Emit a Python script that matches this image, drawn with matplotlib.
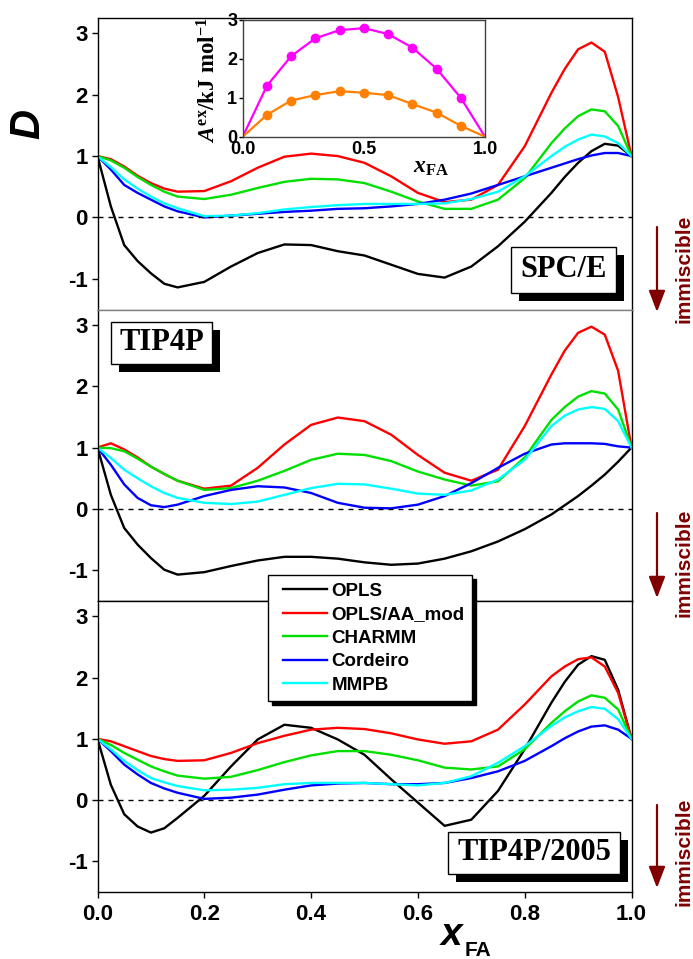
import matplotlib
matplotlib.use('Agg')
import matplotlib.pyplot as plt
from matplotlib.patches import Rectangle, FancyArrowPatch
from matplotlib.lines import Line2D
from matplotlib.legend_handler import HandlerLine2D

plt.rcParams['font.family'] = ['Liberation Sans', 'DejaVu Sans']
plt.rcParams['font.weight'] = 'bold'
plt.rcParams['axes.unicode_minus'] = False
plt.rcParams['mathtext.fontset'] = 'custom'
plt.rcParams['mathtext.rm'] = 'Liberation Serif:bold'
plt.rcParams['mathtext.it'] = 'Liberation Serif:italic:bold'
plt.rcParams['mathtext.bf'] = 'Liberation Sans:bold'

# ---- data ----
x = [0, 0.025, 0.05, 0.075, 0.1, 0.125, 0.15, 0.2, 0.25, 0.3, 0.35, 0.4, 0.45, 0.5,
     0.55, 0.6, 0.65, 0.7, 0.75, 0.8, 0.85, 0.875, 0.9, 0.925, 0.95, 0.975, 1.0]

models = ['OPLS', 'OPLS/AA_mod', 'CHARMM', 'Cordeiro', 'MMPB']
colors = ['#000000', '#ff0000', '#00e000', '#0000ff', '#00ffff']

spce_opls = [1.0, 0.18, -0.45, -0.71, -0.91, -1.08, -1.14, -1.05, -0.80, -0.58, -0.44, -0.45,
             -0.55, -0.62, -0.77, -0.92, -0.98, -0.80, -0.47, -0.07, 0.40, 0.66, 0.89, 1.08,
             1.20, 1.17, 1.0]
spce_oplsaa = [1.0, 0.95, 0.83, 0.68, 0.56, 0.47, 0.42, 0.43, 0.59, 0.81, 0.99, 1.04,
               1.0, 0.89, 0.67, 0.40, 0.25, 0.29, 0.53, 1.16, 2.03, 2.42, 2.74, 2.85,
               2.70, 1.96, 1.0]
spce_charmm = [1.0, 0.93, 0.81, 0.66, 0.53, 0.42, 0.34, 0.30, 0.37, 0.48, 0.58, 0.63,
               0.62, 0.56, 0.42, 0.26, 0.14, 0.14, 0.29, 0.64, 1.21, 1.45, 1.65, 1.76,
               1.73, 1.49, 1.0]
spce_cordeiro = [1.0, 0.78, 0.53, 0.40, 0.29, 0.18, 0.10, 0.0, 0.03, 0.06, 0.09, 0.11,
                 0.14, 0.15, 0.18, 0.22, 0.29, 0.39, 0.53, 0.67, 0.81, 0.88, 0.95, 1.01,
                 1.05, 1.05, 1.0]
spce_mmpb = [1.0, 0.82, 0.62, 0.47, 0.34, 0.23, 0.15, 0.02, 0.03, 0.07, 0.13, 0.17,
             0.20, 0.22, 0.22, 0.22, 0.23, 0.30, 0.42, 0.67, 1.0, 1.15, 1.27, 1.35,
             1.32, 1.21, 1.0]

tip4p_opls = [1.0, 0.23, -0.31, -0.58, -0.80, -0.99, -1.07, -1.03, -0.93, -0.84, -0.78, -0.78,
              -0.81, -0.87, -0.91, -0.89, -0.81, -0.69, -0.53, -0.33, -0.09, 0.06, 0.21,
              0.38, 0.56, 0.77, 1.0]
tip4p_oplsaa = [1.0, 1.07, 0.97, 0.84, 0.69, 0.57, 0.46, 0.33, 0.38, 0.67, 1.05, 1.37,
                1.49, 1.43, 1.21, 0.88, 0.59, 0.46, 0.64, 1.35, 2.19, 2.58, 2.87, 2.97,
                2.84, 2.25, 1.0]
tip4p_charmm = [1.0, 0.99, 0.94, 0.82, 0.69, 0.57, 0.46, 0.31, 0.34, 0.46, 0.62, 0.80,
                0.90, 0.88, 0.78, 0.61, 0.48, 0.38, 0.45, 0.84, 1.45, 1.66, 1.83, 1.92,
                1.88, 1.62, 1.0]
tip4p_cordeiro = [1.0, 0.72, 0.40, 0.18, 0.06, 0.03, 0.07, 0.21, 0.31, 0.37, 0.35, 0.26,
                  0.10, 0.02, 0.01, 0.07, 0.21, 0.42, 0.67, 0.90, 1.05, 1.07, 1.07, 1.07,
                  1.06, 1.02, 1.0]
tip4p_mmpb = [1.0, 0.83, 0.64, 0.50, 0.37, 0.26, 0.18, 0.10, 0.08, 0.12, 0.23, 0.34,
              0.41, 0.40, 0.33, 0.25, 0.23, 0.30, 0.48, 0.80, 1.35, 1.52, 1.62, 1.66,
              1.63, 1.43, 1.0]

tip4p2005_opls = [1.0, 0.25, -0.23, -0.43, -0.53, -0.46, -0.29, 0.07, 0.55, 0.99, 1.23, 1.18,
                  0.99, 0.74, 0.34, -0.04, -0.42, -0.32, 0.15, 0.83, 1.59, 1.93, 2.21,
                  2.35, 2.29, 1.80, 1.0]
tip4p2005_oplsaa = [1.0, 0.96, 0.88, 0.80, 0.72, 0.67, 0.64, 0.65, 0.77, 0.93, 1.05, 1.15,
                    1.18, 1.16, 1.09, 0.99, 0.92, 0.96, 1.15, 1.56, 2.02, 2.18, 2.30, 2.33,
                    2.18, 1.75, 1.0]
tip4p2005_charmm = [1.0, 0.90, 0.77, 0.66, 0.55, 0.47, 0.40, 0.35, 0.38, 0.49, 0.62, 0.73,
                    0.80, 0.80, 0.74, 0.65, 0.53, 0.50, 0.55, 0.83, 1.26, 1.45, 1.61, 1.71,
                    1.67, 1.48, 1.0]
tip4p2005_cordeiro = [1.0, 0.80, 0.58, 0.42, 0.28, 0.19, 0.12, 0.02, 0.04, 0.09, 0.17, 0.24,
                      0.27, 0.28, 0.26, 0.26, 0.28, 0.36, 0.47, 0.64, 0.88, 1.01, 1.12,
                      1.20, 1.22, 1.15, 1.0]
tip4p2005_mmpb = [1.0, 0.83, 0.64, 0.49, 0.36, 0.29, 0.23, 0.16, 0.17, 0.20, 0.26, 0.28,
                  0.28, 0.28, 0.26, 0.24, 0.28, 0.39, 0.61, 0.88, 1.21, 1.35, 1.45, 1.52,
                  1.49, 1.32, 1.0]

panels = [
    ('SPC/E', [spce_opls, spce_oplsaa, spce_charmm, spce_cordeiro, spce_mmpb]),
    ('TIP4P', [tip4p_opls, tip4p_oplsaa, tip4p_charmm, tip4p_cordeiro, tip4p_mmpb]),
    ('TIP4P/2005', [tip4p2005_opls, tip4p2005_oplsaa, tip4p2005_charmm,
                    tip4p2005_cordeiro, tip4p2005_mmpb]),
]

# inset: excess Helmholtz energy
inset_x = [0.0, 0.1, 0.2, 0.3, 0.4, 0.5, 0.6, 0.7, 0.8, 0.9, 1.0]
inset_magenta = [0.0, 1.31, 2.07, 2.53, 2.74, 2.79, 2.64, 2.29, 1.75, 1.0, 0.0]
inset_orange = [0.0, 0.56, 0.93, 1.07, 1.17, 1.13, 1.07, 0.84, 0.62, 0.28, 0.0]

# ---- figure ----
W, H = 693, 959
fig = plt.figure(figsize=(W / 100, H / 100), dpi=100)


def fx(px):
    return px / W


def fy(py):
    return 1 - py / H


left, right = 97.5, 631.5
tops = [18, 309.5, 601]
bots = [309.5, 601, 892]
DARKRED = '#800000'

axes = []
for i, (name, series) in enumerate(panels):
    ax = fig.add_axes([fx(left), fy(bots[i]), fx(right - left), (bots[i] - tops[i]) / H])
    for y, c, m in zip(series, colors, models):
        ax.plot(x, y, color=c, lw=1.7, label=m, solid_joinstyle='round')
    ax.axhline(0, color='k', lw=1, ls=(0, (3.6, 3.6)))
    ax.set_xlim(0, 1)
    ax.set_ylim(-1.5, 3.25)
    ax.set_yticks([-1, 0, 1, 2, 3])
    ax.tick_params(axis='y', direction='out', length=4, width=1, labelsize=16, pad=3)
    ax.tick_params(axis='x', direction='out', length=4, width=1, labelsize=16, pad=5)
    for s in ax.spines.values():
        s.set_linewidth(1)
    if i < 2:
        ax.tick_params(axis='x', bottom=False, labelbottom=False)
    else:
        ax.set_xticks([0, 0.2, 0.4, 0.6, 0.8, 1.0])
        ax.set_xticklabels(['0.0', '0.2', '0.4', '0.6', '0.8', '1.0'])
    axes.append(ax)

axes[0].spines['bottom'].set_color('#808080')
axes[1].spines['top'].set_color('#808080')

leg = axes[2].legend(loc='upper left', bbox_to_anchor=(fx(268), fy(575)),
                     bbox_transform=fig.transFigure, borderaxespad=0,
                     fancybox=False, edgecolor='k', framealpha=1,
                     shadow={'ox': 3, 'oy': -3, 'color': 'k', 'alpha': 1},
                     prop={'size': 13.5, 'weight': 'bold'}, handlelength=2.74,
                     handletextpad=0.25, labelspacing=0.34, borderpad=0.4,
                     handler_map={Line2D: HandlerLine2D(xpad=0.4)})
leg.get_frame().set_linewidth(1)

# model name boxes with black shadow
boxes = [('SPC/E', 510.7, 246.7, 105, 46),
         ('TIP4P', 111, 321.7, 101, 42),
         ('TIP4P/2005', 448, 831.7, 172, 42)]
for txt, bx, by, bw, bh in boxes:
    fig.add_artist(Rectangle((fx(bx + 8), fy(by + bh + 8)), bw / W, bh / H,
                             transform=fig.transFigure, fc='k', ec='k', lw=0, zorder=5))
    fig.add_artist(Rectangle((fx(bx), fy(by + bh)), bw / W, bh / H,
                             transform=fig.transFigure, fc='w', ec='k', lw=1, zorder=6))
    fig.text(fx(bx + bw / 2), fy(by + bh / 2), txt, family='Liberation Serif',
             weight='bold', size=22, ha='center', va='center', zorder=7)

# immiscible arrows and labels
for ycen, y0, y1 in [(269, 227, 312), (563, 513, 598), (852, 805, 888)]:
    fig.text(fx(684), fy(ycen), 'immiscible', rotation=90, color=DARKRED,
             size=15, weight='bold', ha='center', va='center')
    fig.add_artist(FancyArrowPatch(
        (fx(657), fy(y0)), (fx(657), fy(y1)), transform=fig.transFigure,
        arrowstyle='-|>,head_length=0.65,head_width=0.25', mutation_scale=20,
        color=DARKRED, lw=1.6, shrinkA=0, shrinkB=0))

# axis labels
fig.text(fx(28), fy(124), 'D', rotation=90, size=30, weight='bold', style='italic',
         ha='center', va='center')
fig.text(fx(441), fy(945), 'x', size=28, weight='bold', style='italic',
         ha='left', va='baseline')
fig.text(fx(465), fy(956), 'FA', size=15, weight='bold', ha='left', va='baseline')

# inset
ins = fig.add_axes([fx(242.7), fy(136.7), (485 - 242.7) / W, (136.7 - 20) / H])
ins.plot(inset_x, inset_magenta, color='#ff00ff', lw=1.6, marker='o', ms=6,
         markevery=list(range(1, 10)))
ins.plot(inset_x, inset_orange, color='#ff8000', lw=1.6, marker='o', ms=6,
         markevery=list(range(1, 10)))
ins.set_xlim(0, 1)
ins.set_ylim(0, 3)
ins.set_xticks([0, 0.5, 1.0])
ins.set_xticklabels(['0.0', '0.5', '1.0'])
ins.set_yticks([0, 1, 2, 3])
ins.tick_params(direction='out', length=3, width=1, labelsize=13, pad=1)
ins.tick_params(axis='x', length=0, pad=3)
for s in ins.spines.values():
    s.set_linewidth(1)
    s.set_color('#404040')
fig.text(fx(209), fy(80), r'$A^{\mathrm{ex}}\mathrm{/kJ\ mol}^{\mathrm{-1}}$',
         rotation=90, size=16.5, ha='center', va='center')
fig.text(fx(431), fy(166), r'$x_{\mathrm{FA}}$', size=17, ha='center', va='center')

fig.savefig('out.png', dpi=100)
